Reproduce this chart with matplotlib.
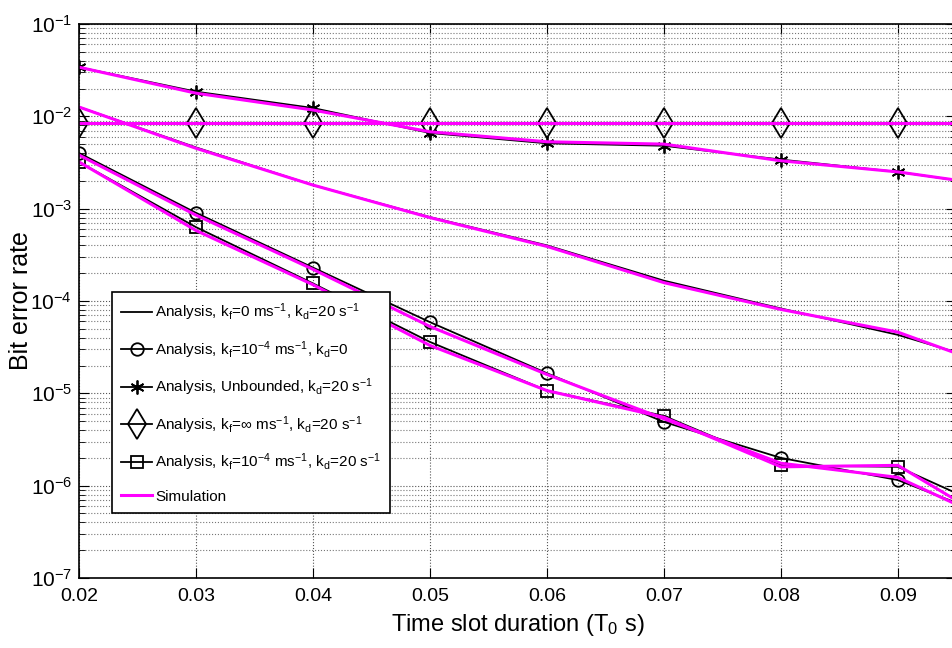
import numpy as np
import matplotlib
matplotlib.use('Agg')
import matplotlib.pyplot as plt

plt.rcParams['font.family'] = ['Liberation Sans', 'DejaVu Sans']
plt.rcParams['mathtext.default'] = 'regular'
plt.rcParams['mathtext.fontset'] = 'custom'
plt.rcParams['mathtext.rm'] = 'Liberation Sans'
plt.rcParams['mathtext.it'] = 'Liberation Sans'

# time slot duration (s)
t = [0.02, 0.03, 0.04, 0.05, 0.06, 0.07, 0.08, 0.09, 0.10]

# analysis curves
ana_kf0 = [1.26e-2, 4.6e-3, 1.8e-3, 8.1e-4, 4.0e-4, 1.66e-4, 8.3e-5, 4.3e-5, 1.8e-5]
ana_kd0 = [4.0e-3, 9.0e-4, 2.3e-4, 5.9e-5, 1.65e-5, 4.9e-6, 2.0e-6, 1.15e-6, 3.7e-7]
ana_unb = [3.4e-2, 1.85e-2, 1.23e-2, 6.6e-3, 5.1e-3, 4.8e-3, 3.4e-3, 2.5e-3, 1.65e-3]
ana_inf = [8.5e-3, 8.5e-3, 8.5e-3, 8.5e-3, 8.5e-3, 8.5e-3, 8.5e-3, 8.5e-3, 8.5e-3]
ana_kf4 = [3.2e-3, 6.3e-4, 1.55e-4, 3.6e-5, 1.07e-5, 5.7e-6, 1.66e-6, 1.6e-6, 4.3e-7]

# simulation curves
sim_kf0 = [1.26e-2, 4.5e-3, 1.8e-3, 8.0e-4, 3.9e-4, 1.58e-4, 8.1e-5, 4.6e-5, 1.6e-5]
sim_kd0 = [3.8e-3, 8.5e-4, 2.2e-4, 5.3e-5, 1.6e-5, 5.3e-6, 1.75e-6, 1.23e-6, 3.2e-7]
sim_unb = [3.4e-2, 1.78e-2, 1.17e-2, 6.8e-3, 5.3e-3, 5.0e-3, 3.3e-3, 2.5e-3, 1.66e-3]
sim_inf = [8.5e-3, 8.5e-3, 8.5e-3, 8.5e-3, 8.5e-3, 8.5e-3, 8.5e-3, 8.5e-3, 8.5e-3]
sim_kf4 = [3.2e-3, 5.8e-4, 1.5e-4, 3.3e-5, 1.07e-5, 5.5e-6, 1.6e-6, 1.66e-6, 2.9e-7]

xticks = [0.02, 0.03, 0.04, 0.05, 0.06, 0.07, 0.08, 0.09]
xticklabels = ['0.02', '0.03', '0.04', '0.05', '0.06', '0.07', '0.08', '0.09']

labels = [r'Analysis, k$_f$=0 ms$^{-1}$, k$_d$=20 s$^{-1}$',
          r'Analysis, k$_f$=10$^{-4}$ ms$^{-1}$, k$_d$=0',
          r'Analysis, Unbounded, k$_d$=20 s$^{-1}$',
          r'Analysis, k$_f$=$\infty$ ms$^{-1}$, k$_d$=20 s$^{-1}$',
          r'Analysis, k$_f$=10$^{-4}$ ms$^{-1}$, k$_d$=20 s$^{-1}$',
          'Simulation']

fig = plt.figure(figsize=(9.53, 6.48), dpi=100)
ax = fig.add_axes([0.083, 0.108, 0.9205, 0.855])

mk = dict(color='black', lw=1.3, mfc='none', mec='black', mew=1.3)
ax.plot(t, ana_kf0, label=labels[0], **mk)
ax.plot(t, ana_kd0, marker='o', ms=9, label=labels[1], **mk)
ax.plot(t, ana_unb, marker=(6, 2, 0), ms=10, label=labels[2], **mk)
ax.plot(t, ana_inf, marker='d', ms=15, label=labels[3], **mk)
ax.plot(t, ana_kf4, marker='s', ms=8, label=labels[4], **mk)

for i, s in enumerate([sim_kf0, sim_kd0, sim_unb, sim_inf, sim_kf4]):
    ax.plot(t, s, color='#ff00ff', lw=2.2, label=labels[5] if i == 0 else None)

ax.set_yscale('log')
ax.set_xlim(0.02, 0.095)
ax.set_ylim(1e-7, 1e-1)
ax.set_xticks(xticks)
ax.set_xticklabels(xticklabels)
ax.tick_params(which='both', direction='in', top=True, right=True)
ax.tick_params(which='major', length=7)
ax.tick_params(which='minor', length=4)
ax.tick_params(axis='x', labelsize=14, pad=7)
ax.tick_params(axis='y', labelsize=15, pad=5)
ax.grid(True, which='major', linestyle=':', color='#555555', lw=0.8)
ax.grid(True, which='minor', axis='y', linestyle=':', color='#777777', lw=0.8)
for sp in ax.spines.values():
    sp.set_linewidth(1.2)

ax.set_xlabel(r'Time slot duration (T$_0$ s)', fontsize=17, labelpad=5)
ax.set_ylabel('Bit error rate', fontsize=18)
ax.yaxis.set_label_coords(-0.052, 0.5)

leg = ax.legend(loc='upper left', bbox_to_anchor=(0.0376, 0.516), fontsize=11,
                fancybox=False, edgecolor='black', framealpha=1,
                handlelength=2.0, handletextpad=0.2, labelspacing=1.05,
                borderaxespad=0, borderpad=0.6)
leg.get_frame().set_linewidth(1.2)

fig.savefig('out.png', dpi=100)
